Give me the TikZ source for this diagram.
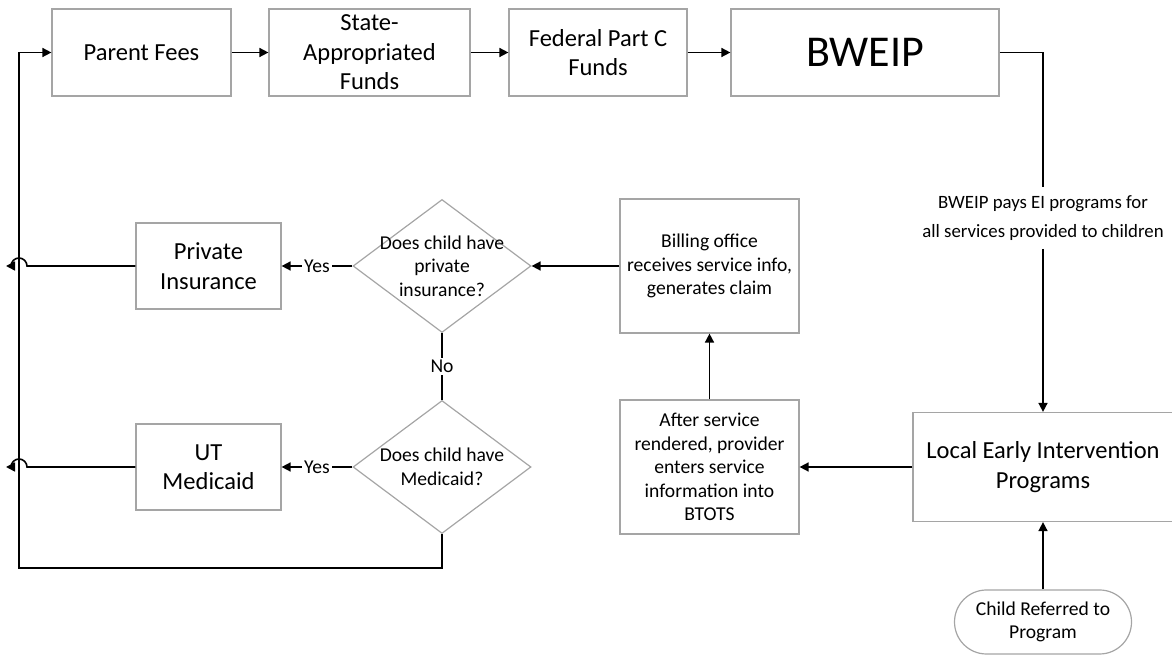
\documentclass[tikz,border=0pt]{standalone}
\usepackage{fontspec}
\setmainfont{Carlito}
\usetikzlibrary{arrows.meta,shapes.geometric}
\definecolor{boxgray}{RGB}{165,165,165}
\newcommand{\bigtxt}{\fontsize{12.25}{14.75}\selectfont}
\newcommand{\smalltxt}{\fontsize{9.8}{11.8}\selectfont}
\tikzset{
  flow/.style={-{Triangle[length=4.5pt,width=4.5pt]}, line width=0.8pt},
  plain/.style={line width=0.8pt},
  box/.style={draw=boxgray, line width=0.6pt, align=center, inner sep=1pt, font=\bigtxt},
  smallbox/.style={box, font=\smalltxt},
  decision/.style={draw=boxgray, line width=0.6pt, diamond, minimum width=89pt, minimum height=66.5pt, inner sep=0pt},
  answer/.style={fill=white, inner sep=1pt, font=\smalltxt},
}
\begin{document}
\begin{tikzpicture}[x=0.5pt, y=-0.5pt]
            \useasboundingbox (0,0) rectangle (1172,656);
            \node [box, minimum width=89.5pt, minimum height=43.5pt] (pf) at (141.5,52.5) {Parent Fees};
            \node [box, minimum width=100.5pt, minimum height=43.5pt] (saf) at (369.5,52.5) {State-\\Appropriated\\Funds};
            \node [box, minimum width=89pt, minimum height=43.5pt] (fpc) at (598,52.5) {Federal Part C\\Funds};
            \node [box, minimum width=134pt, minimum height=43.5pt, font=\fontsize{22}{26}\selectfont] (bweip) at (865,52.5) {BWEIP};
            \node [font=\fontsize{9.4}{14.5}\selectfont, align=center, inner xsep=2pt, inner ysep=4pt] (pays) at (1043,218) {BWEIP pays EI programs for\\all services provided to children};
            \node [box, minimum width=130pt, minimum height=54.5pt] (lei) at (1043,467) {Local Early Intervention\\Programs};
            \node [smallbox, rounded corners=16pt, minimum width=88.5pt, minimum height=32pt] (child) at (1043,622) {Child Referred to\\Program};
            \node [smallbox, minimum width=89.5pt, minimum height=67pt] (after) at (709.5,467) {After service\\rendered, provider\\enters service\\information into\\BTOTS};
            \node [smallbox, minimum width=89.5pt, minimum height=67pt] (bill) at (709.5,266) {Billing office\\receives service info,\\generates claim};
            \node [decision] (dq1) at (442,266) {};
            \node [font=\smalltxt, align=center] (dq1txt) at (dq1) {Does child have\\private\\insurance?};
            \node [decision] (dq2) at (442,467) {};
            \node [font=\smalltxt, align=center] (dq2txt) at (dq2) {Does child have\\Medicaid?};
            \node [box, minimum width=72.5pt, minimum height=43pt] (pri) at (208.5,266) {Private\\Insurance};
            \node [box, minimum width=72.5pt, minimum height=43pt] (utm) at (208.5,467) {UT\\Medicaid};
            \coordinate (corner) at (19,568);
            \coordinate (back1) at (6,266);
            \coordinate (back2) at (6,467);
            \draw [flow] (pf) -- (saf);
            \draw [flow] (saf) -- (fpc);
            \draw [flow] (fpc) -- (bweip);
            \draw [plain] (bweip.east) -| (pays.north);
            \draw [flow] (pays.south) -- (lei.north);
            \draw [flow] (child) -- (lei);
            \draw [flow] (lei) -- (after);
            \draw [flow] (after) -- (bill);
            \draw [flow] (bill) -- (dq1);
            \draw [flow] (dq1) -- node [answer] {Yes} (pri);
            \draw [plain] (dq1) -- node [answer] {No} (dq2);
            \draw [flow] (dq2) -- node [answer] {Yes} (utm);
            \draw [flow] (dq2.south) |- (corner) |- (pf.west);
            \draw [flow] (pri.west) -- (27,266) arc [start angle=0, end angle=180, radius=4pt] -- (back1);
            \draw [flow] (utm.west) -- (27,467) arc [start angle=0, end angle=180, radius=4pt] -- (back2);
        \end{tikzpicture}
\end{document}
